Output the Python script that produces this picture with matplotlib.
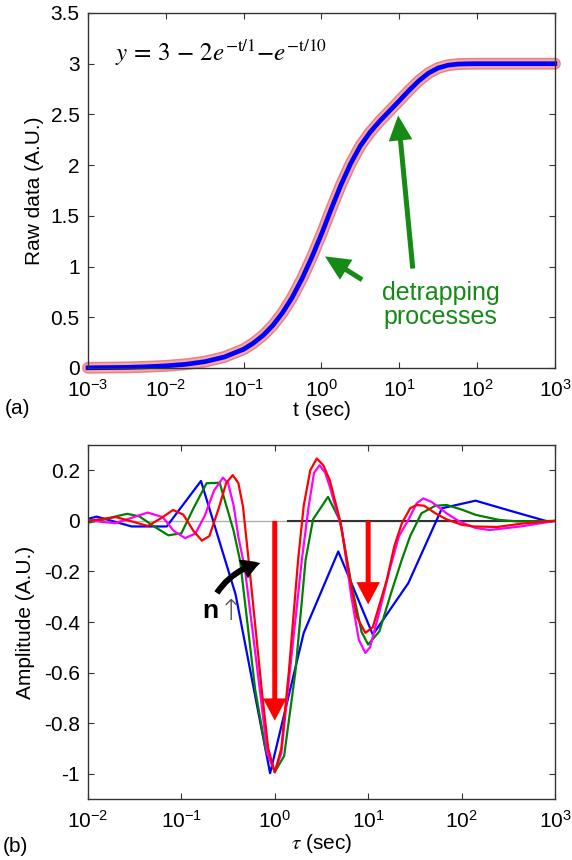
import numpy as np
import matplotlib
matplotlib.use('Agg')
import matplotlib.pyplot as plt

plt.rcParams['font.family'] = ['Liberation Sans', 'DejaVu Sans']
plt.rcParams['mathtext.fontset'] = 'stix'
plt.rcParams['axes.unicode_minus'] = False

t_raw = [0.001, 0.00178, 0.00316, 0.00562, 0.01, 0.0178, 0.0316, 0.0562, 0.1,
         0.133, 0.178, 0.237, 0.316, 0.42, 0.562, 0.75, 1.0, 1.33, 1.78, 2.37,
         3.16, 4.22, 5.62, 7.5, 10, 13.3, 17.8, 23.7, 31.6, 42.2, 56.2, 75,
         100, 178, 316, 562, 1000]
y_raw = [0.002, 0.004, 0.006, 0.012, 0.021, 0.036, 0.062, 0.108, 0.185,
         0.245, 0.322, 0.420, 0.545, 0.695, 0.880, 1.090, 1.320, 1.565, 1.805, 2.015,
         2.190, 2.325, 2.435, 2.535, 2.635, 2.736, 2.831, 2.907, 2.958, 2.985, 2.996, 2.999,
         3.0, 3.0, 3.0, 3.0, 3.0]

# (b) спектры амплитуд (log10 tau)
lt_blue = [-2.0, -1.907, -1.532, -1.157, -0.79, -0.42, -0.05, 0.31, 0.68, 1.05,
           1.43, 1.79, 2.15, 2.55, 2.93, 3.0]
amp_blue = [0.008, 0.017, -0.022, -0.022, 0.158, -0.29, -0.998, -0.443, -0.121, -0.450,
            -0.246, 0.05, 0.080, 0.037, -0.003, 0.0]

lt_green = [-2.0, -1.83, -1.70, -1.58, -1.45, -1.30, -1.14, -1.0, -0.87, -0.73, -0.59,
            -0.44, -0.37, -0.21, -0.10, 0.0, 0.10, 0.22, 0.33, 0.41, 0.57, 0.70, 0.82,
            0.93, 1.0, 1.12, 1.25, 1.36, 1.45, 1.57, 1.72, 1.84, 2.0, 2.15, 2.4, 2.6, 3.0]
amp_green = [-0.007, 0.005, 0.018, 0.028, 0.018, -0.02, -0.057, -0.049, 0.05, 0.149, 0.151,
             -0.04, -0.16, -0.667, -0.90, -0.993, -0.93, -0.60, -0.154, 0.006, 0.095, 0.0, -0.25,
             -0.44, -0.489, -0.437, -0.28, -0.154, -0.06, 0.030, 0.060, 0.063, 0.045, 0.024, 0.004, -0.002, 0.0]

lt_magenta = [-2.0, -1.85, -1.71, -1.55, -1.36, -1.20, -1.08, -0.96, -0.85, -0.75, -0.65,
              -0.555, -0.50, -0.44, -0.39, -0.32, -0.16, -0.08, 0.0, 0.07, 0.16, 0.29, 0.36,
              0.42, 0.48, 0.54, 0.59, 0.72, 0.82, 0.90, 0.97, 1.02, 1.12, 1.23, 1.33, 1.43,
              1.52, 1.59, 1.68, 1.84, 1.98, 2.15, 2.3, 2.63, 3.0]
amp_magenta = [0.004, -0.004, -0.009, 0.01, 0.033, 0.015, -0.04, -0.068, -0.05, 0.02, 0.12,
               0.171, 0.15, 0.06, -0.062, -0.19, -0.667, -0.92, -0.99, -0.92, -0.60, -0.154, 0.05,
               0.19, 0.22, 0.19, 0.135, -0.036, -0.30, -0.47, -0.522, -0.50, -0.36, -0.193, -0.06, 0.004,
               0.07, 0.089, 0.075, 0.03, -0.003, -0.028, -0.036, -0.022, 0.0]

lt_red = [-2.0, -1.85, -1.70, -1.55, -1.36, -1.22, -1.09, -0.98, -0.87, -0.78, -0.70,
          -0.60, -0.52, -0.45, -0.39, -0.34, -0.27, -0.14, -0.07, 0.0, 0.07, 0.15, 0.25,
          0.31, 0.38, 0.45, 0.52, 0.59, 0.70, 0.80, 0.88, 0.97, 1.05, 1.20, 1.28, 1.36,
          1.45, 1.52, 1.60, 1.72, 1.84, 2.0, 2.13, 2.38, 2.66, 3.0]
amp_red = [0.0, 0.008, 0.015, 0.0, -0.02, 0.01, 0.043, 0.025, -0.04, -0.078, -0.06,
           0.05, 0.15, 0.181, 0.15, 0.056, -0.19, -0.667, -0.90, -0.995, -0.90, -0.60, -0.154,
           0.06, 0.20, 0.247, 0.22, 0.16, 0.0, -0.22, -0.38, -0.443, -0.42, -0.233, -0.10, -0.01,
           0.05, 0.063, 0.06, 0.03, 0.006, -0.015, -0.022, -0.024, -0.01, 0.0]

curves = [(lt_blue, amp_blue, '#0000ff'), (lt_green, amp_green, '#008000'),
          (lt_magenta, amp_magenta, '#ff00ff'), (lt_red, amp_red, '#ff0000')]

fig = plt.figure(figsize=(5.72, 8.6), dpi=100)
ax1 = fig.add_axes([0.1538, 0.5721, 0.8164, 0.4128])
ax2 = fig.add_axes([0.1538, 0.0709, 0.8164, 0.4116])

for ax in (ax1, ax2):
    ax.set_xscale('log')
    ax.minorticks_off()
    ax.tick_params(direction='in', top=True, right=True, length=4, width=0.8,
                   labelsize=15, pad=6, color='#333333')
    ax.tick_params(axis='x', pad=8)
    for s in ax.spines.values():
        s.set_color('#333333')
        s.set_linewidth(1)

# --- (a) ---
ax1.plot(t_raw, y_raw, color='#ee8080', lw=8.5, solid_capstyle='round', clip_on=False)
ax1.plot(t_raw, y_raw, color='#f5aaaa', lw=6.3, solid_capstyle='round', clip_on=False)
ax1.plot(t_raw, y_raw, color='#0000ff', lw=3.4, clip_on=False)
ax1.set_xlim(1e-3, 1e3)
ax1.set_ylim(0, 3.5)
ax1.set_xticks([1e-3, 1e-2, 1e-1, 1, 10, 100, 1000])
ax1.set_yticks([0, 0.5, 1, 1.5, 2, 2.5, 3, 3.5],
               ['0', '0.5', '1', '1.5', '2', '2.5', '3', '3.5'])
ax1.set_xlabel('t (sec)', fontsize=15, labelpad=0)
ax1.set_ylabel('Raw data (A.U.)', fontsize=15, labelpad=5)
ax1.text(0.058, 0.865, r'$y\,=\,3\,-\,2e^{-\mathrm{t}/1}{-}e^{-\mathrm{t}/10}$',
         transform=ax1.transAxes, fontsize=18)

green = '#158a15'
arr_g = dict(arrowstyle='simple,head_length=18,head_width=17,tail_width=3.6',
             mutation_scale=1, color=green, lw=0, shrinkA=0, shrinkB=0)
ax1.annotate('', xy=(1.11, 1.10), xytext=(3.33, 0.87), arrowprops=arr_g)
ax1.annotate('', xy=(9.66, 2.49), xytext=(14.9, 0.98), arrowprops=arr_g)
ax1.text(34, 0.62, 'detrapping\nprocesses', color=green, fontsize=18,
         ha='center', va='center', linespacing=1.0)

# --- (b) ---
ax2.axhline(0, color='#b0b0b0', lw=1, zorder=1)
ax2.plot([1.38, 1000], [0, 0], color='#333333', lw=1.5, zorder=1)
for lt, amp, c in curves:
    ax2.plot(10 ** np.array(lt), amp, color=c, lw=1.6, zorder=2)
ax2.set_xlim(1e-2, 1e3)
ax2.set_ylim(-1.1, 0.3)
ax2.set_xticks([1e-2, 1e-1, 1, 10, 100, 1000])
ax2.set_yticks([-1, -0.8, -0.6, -0.4, -0.2, 0, 0.2],
               ['-1', '-0.8', '-0.6', '-0.4', '-0.2', '0', '0.2'])
ax2.set_xlabel(r'$\tau$ (sec)', fontsize=15, labelpad=0)
ax2.set_ylabel('Amplitude (A.U.)', fontsize=15, labelpad=6)

arr_r = dict(arrowstyle='simple,head_length=16,head_width=17,tail_width=3.6',
             mutation_scale=1, color='#ff0000', lw=0, shrinkA=0, shrinkB=0)
ax2.annotate('', xy=(1, -0.79), xytext=(1, 0.0), arrowprops=arr_r, zorder=5)
ax2.annotate('', xy=(10, -0.33), xytext=(10, 0.0), arrowprops=arr_r, zorder=5)

ax2.annotate('', xy=(0.70, -0.167), xytext=(0.240, -0.285),
             arrowprops=dict(arrowstyle='simple,head_length=13,head_width=15,tail_width=4.3',
                             mutation_scale=1, color='black', lw=0, shrinkA=0, shrinkB=0,
                             connectionstyle='arc3,rad=-0.2'), zorder=5)
ax2.text(0.168, -0.385, 'n', fontsize=19, fontweight='bold', ha='left', va='baseline')
ax2.text(0.25, -0.392, '\u2191', fontsize=21, color='#555555', ha='left', va='baseline',
         family=['DejaVu Sans'], fontweight='light')

fig.text(5 / 572, 1 - 408 / 860, '(a)', fontsize=15, va='center')
fig.text(3 / 572, 1 - 847 / 860, '(b)', fontsize=15, va='center')

fig.savefig('out.png', dpi=100)
